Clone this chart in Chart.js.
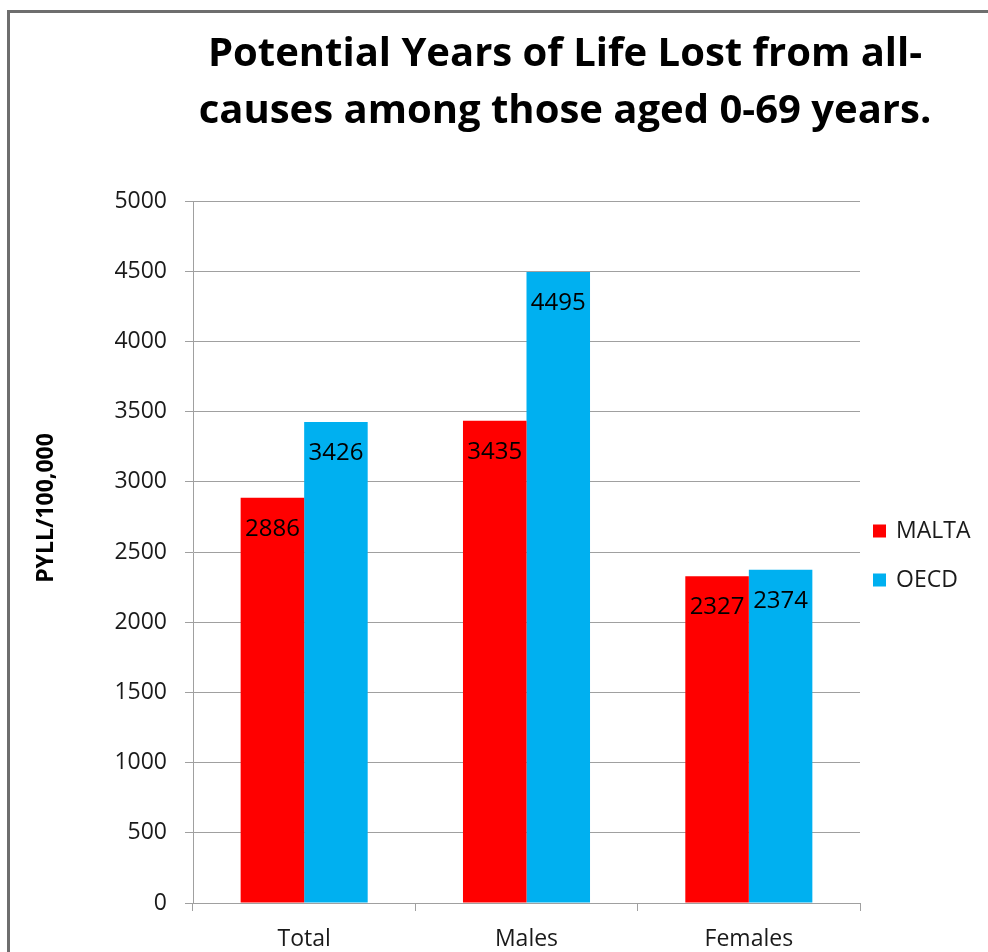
<!DOCTYPE html>
<html>
<head>
<meta charset="utf-8">
<script src="https://cdn.jsdelivr.net/npm/chart.js@4.4.0/dist/chart.umd.min.js"></script>
<style>
html,body{margin:0;padding:0;background:#fff;}
#wrap{width:988px;height:952px;position:relative;}
</style>
</head>
<body>
<div id="wrap"><canvas id="c" width="988" height="952"></canvas></div>
<script>
// ---- data ----
const categories = ['Total', 'Males', 'Females'];
const seriesNames = ['MALTA', 'OECD'];
const maltaValues = [2886, 3435, 2327];
const oecdValues = [3426, 4495, 2374];
const seriesColors = ['#FF0000', '#00B0F0'];
const yMin = 0;
const yMax = 5000;
const yStep = 500;
const titleLines = ['Potential Years of Life Lost from all-', 'causes among those aged 0-69 years.'];
const yAxisTitle = 'PYLL/100,000';

const FONT = "'Open Sans', 'DejaVu Sans', sans-serif";

const framePlugin = {
  id: 'frame',
  beforeDraw(chart) {
    const ctx = chart.ctx;
    ctx.save();
    ctx.fillStyle = '#ffffff';
    ctx.fillRect(0, 0, chart.width, chart.height);
    ctx.strokeStyle = '#6e6e6e';
    ctx.lineWidth = 3;
    ctx.strokeRect(8.5, 11.5, 1200, 1200);
    ctx.restore();
  }
};

const titlePlugin = {
  id: 'titleText',
  afterDraw(chart) {
    const ctx = chart.ctx;
    ctx.save();
    ctx.fillStyle = '#000000';
    ctx.font = "bold 40px " + FONT;
    ctx.textAlign = 'center';
    ctx.textBaseline = 'alphabetic';
    titleLines.forEach((line, i) => {
      ctx.fillText(line, 565, 66 + i * 57);
    });
    // y axis title
    ctx.translate(46, 508);
    ctx.rotate(-Math.PI / 2);
    ctx.font = "bold 23px " + FONT;
    ctx.textBaseline = 'middle';
    ctx.fillText(yAxisTitle, 0, 0);
    ctx.restore();
  }
};

const valueLabelPlugin = {
  id: 'valueLabels',
  afterDatasetsDraw(chart) {
    const ctx = chart.ctx;
    ctx.save();
    ctx.fillStyle = '#000000';
    ctx.font = "24px " + FONT;
    ctx.textAlign = 'center';
    ctx.textBaseline = 'middle';
    chart.data.datasets.forEach((ds, i) => {
      const meta = chart.getDatasetMeta(i);
      meta.data.forEach((bar, j) => {
        ctx.fillText(String(ds.data[j]), bar.x, bar.y + 31);
      });
    });
    ctx.restore();
  }
};

const legendPlugin = {
  id: 'customLegend',
  afterDraw(chart) {
    const ctx = chart.ctx;
    ctx.save();
    ctx.font = "23px " + FONT;
    ctx.textAlign = 'left';
    ctx.textBaseline = 'middle';
    chart.data.datasets.forEach((ds, i) => {
      const cy = 531 + i * 49;
      ctx.fillStyle = ds.backgroundColor;
      ctx.fillRect(873, cy - 6.5, 13, 13);
      ctx.fillStyle = '#1a1a1a';
      ctx.fillText(ds.label, 896, cy);
    });
    ctx.restore();
  }
};

const tickList = [];
for (let v = yMin; v <= yMax; v += yStep) tickList.push(v);

new Chart(document.getElementById('c'), {
  type: 'bar',
  data: {
    labels: categories,
    datasets: [
      { label: seriesNames[0], data: maltaValues, backgroundColor: seriesColors[0], borderWidth: 0 },
      { label: seriesNames[1], data: oecdValues, backgroundColor: seriesColors[1], borderWidth: 0 }
    ]
  },
  options: {
    responsive: false,
    animation: false,
    devicePixelRatio: 1,
    layout: { padding: { left: 10, top: 201, right: 128, bottom: 0 } },
    datasets: { bar: { categoryPercentage: 2 / 3.5, barPercentage: 1.0 } },
    plugins: {
      legend: { display: false },
      title: { display: false },
      tooltip: { enabled: false }
    },
    scales: {
      x: {
        offset: true,
        grid: { display: true, drawOnChartArea: false, drawTicks: true, tickLength: 8, color: '#a0a0a0', offset: true },
        border: { display: true, color: '#a0a0a0', width: 1 },
        ticks: { font: { family: FONT, size: 23 }, color: '#1a1a1a', padding: 15 },
        afterFit(scale) { scale.height = 49; }
      },
      y: {
        min: yMin,
        max: yMax,
        afterBuildTicks(scale) { scale.ticks = tickList.map(v => ({ value: v })); },
        grid: { color: '#a0a0a0', drawTicks: true, tickLength: 8 },
        border: { display: true, color: '#a0a0a0', width: 1 },
        ticks: { font: { family: FONT, size: 23 }, color: '#1a1a1a', padding: 18, callback: (v) => String(v) },
        afterFit(scale) { scale.width = 183; }
      }
    }
  },
  plugins: [framePlugin, valueLabelPlugin, titlePlugin, legendPlugin]
});
</script>
</body>
</html>
